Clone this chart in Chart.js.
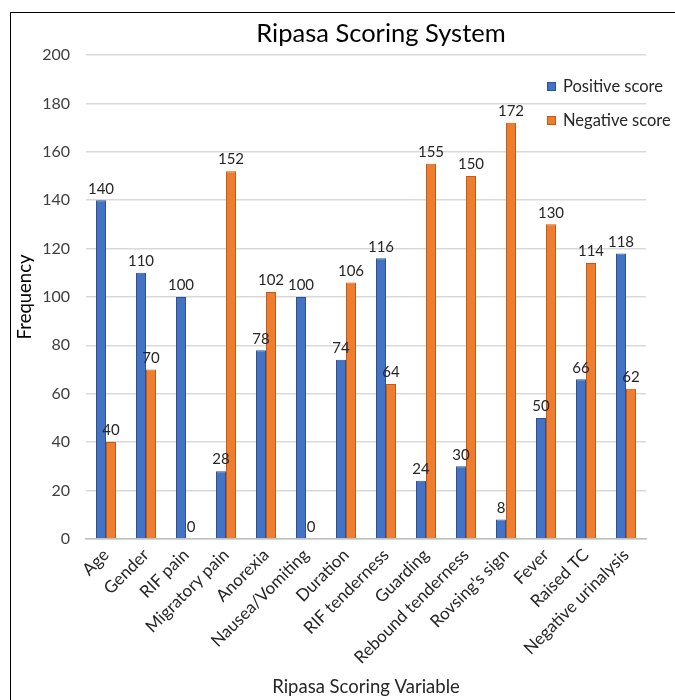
<!DOCTYPE html>
<html>
<head>
<meta charset="utf-8">
<title>Ripasa Scoring System</title>
<script src="https://cdn.jsdelivr.net/npm/chart.js@4.4.0/dist/chart.umd.min.js"></script>
<style>
  body { margin: 0; background: #fff; overflow: hidden; }
  .frame { position: absolute; left: 10px; top: 12px; width: 720px; height: 740px; border: 1px solid #000; }
  .wrap { position: absolute; left: 0; top: 0; width: 675px; height: 700px; }
</style>
</head>
<body>
<div class="frame"></div>
<div class="wrap"><canvas id="myChart" width="675" height="700"></canvas></div>
<script>
// Chart data
const categories = ["Age", "Gender", "RIF pain", "Migratory pain", "Anorexia", "Nausea/Vomiting", "Duration",
  "RIF tenderness", "Guarding", "Rebound tenderness", "Rovsing's sign", "Fever", "Raised TC", "Negative urinalysis"];
const positiveScore = [140, 110, 100, 28, 78, 100, 74, 116, 24, 30, 8, 50, 66, 118];
const negativeScore = [40, 70, 0, 152, 102, 0, 106, 64, 155, 150, 172, 130, 114, 62];
const yTicks = [0, 20, 40, 60, 80, 100, 120, 140, 160, 180, 200];

const font = "Lato, 'Open Sans', sans-serif";

// Value labels on top of each bar
const barLabels = {
  id: "barLabels",
  afterDatasetsDraw(chart) {
    const ctx = chart.ctx;
    ctx.save();
    ctx.font = "15px " + font;
    ctx.fillStyle = "#262626";
    ctx.textAlign = "center";
    ctx.textBaseline = "bottom";
    chart.data.datasets.forEach((ds, i) => {
      chart.getDatasetMeta(i).data.forEach((bar, j) => {
        ctx.fillText(ds.data[j], bar.x, bar.y - 4);
      });
    });
    ctx.restore();
  },
};

// Title and legend sitting on top of the plot
const overlay = {
  id: "overlay",
  afterDraw(chart) {
    const ctx = chart.ctx;
    ctx.save();
    ctx.fillStyle = "#000";
    ctx.font = "25.5px " + font;
    ctx.textAlign = "center";
    ctx.textBaseline = "middle";
    ctx.fillText("Ripasa Scoring System", 381, 34);

    ctx.font = "16.5px " + font;
    ctx.textAlign = "left";
    chart.data.datasets.forEach((ds, i) => {
      let y = 87 + i * 34;
      ctx.fillStyle = "#fff";
      ctx.fillRect(543, y - 11, 128, 22);
      ctx.fillStyle = ds.backgroundColor;
      ctx.fillRect(547, y - 5, 9, 9);
      ctx.strokeStyle = ds.borderColor;
      ctx.lineWidth = 1;
      ctx.strokeRect(547.5, y - 4.5, 8, 8);
      ctx.fillStyle = "#262626";
      ctx.fillText(ds.label, 563, y);
    });
    ctx.restore();
  },
};

new Chart(document.getElementById("myChart"), {
  type: "bar",
  data: {
    labels: categories,
    datasets: [
      {
        label: "Positive score",
        data: positiveScore,
        backgroundColor: "#4472c4",
        borderColor: "#2f528f",
        borderWidth: 1,
      },
      {
        label: "Negative score",
        data: negativeScore,
        backgroundColor: "#ed7d31",
        borderColor: "#c55a11",
        borderWidth: 1,
      },
    ],
  },
  options: {
    responsive: false,
    animation: false,
    layout: { padding: { left: 10, right: 29, top: 55, bottom: 2 } },
    datasets: { bar: { categoryPercentage: 0.5, barPercentage: 1.0 } },
    plugins: {
      legend: { display: false },
      title: { display: false },
      tooltip: { enabled: false },
    },
    scales: {
      x: {
        grid: { display: false, drawTicks: false },
        border: { display: true, color: "#bfbfbf", width: 1.5 },
        ticks: {
          font: { family: font, size: 17 },
          color: "#262626",
          minRotation: 45,
          maxRotation: 45,
          padding: 6,
        },
        title: {
          display: true,
          text: "Ripasa Scoring Variable",
          font: { family: font, size: 18.5 },
          color: "#262626",
          padding: { top: 2, bottom: 0 },
        },
      },
      y: {
        min: 0,
        max: 200,
        afterBuildTicks(axis) {
          axis.ticks = yTicks.map((v) => ({ value: v }));
        },
        // fixed width so the plot starts where the original does
        afterFit(axis) {
          axis.width = 76;
        },
        grid: { color: "#d9d9d9", lineWidth: 1.5, drawTicks: false },
        border: { display: false },
        ticks: {
          font: { family: font, size: 16 },
          color: "#404040",
          padding: 16,
        },
        title: {
          display: true,
          text: "Frequency",
          font: { family: font, size: 18.5 },
          color: "#000",
          padding: { top: 4, bottom: 5 },
        },
      },
    },
  },
  plugins: [barLabels, overlay],
});
</script>
</body>
</html>
